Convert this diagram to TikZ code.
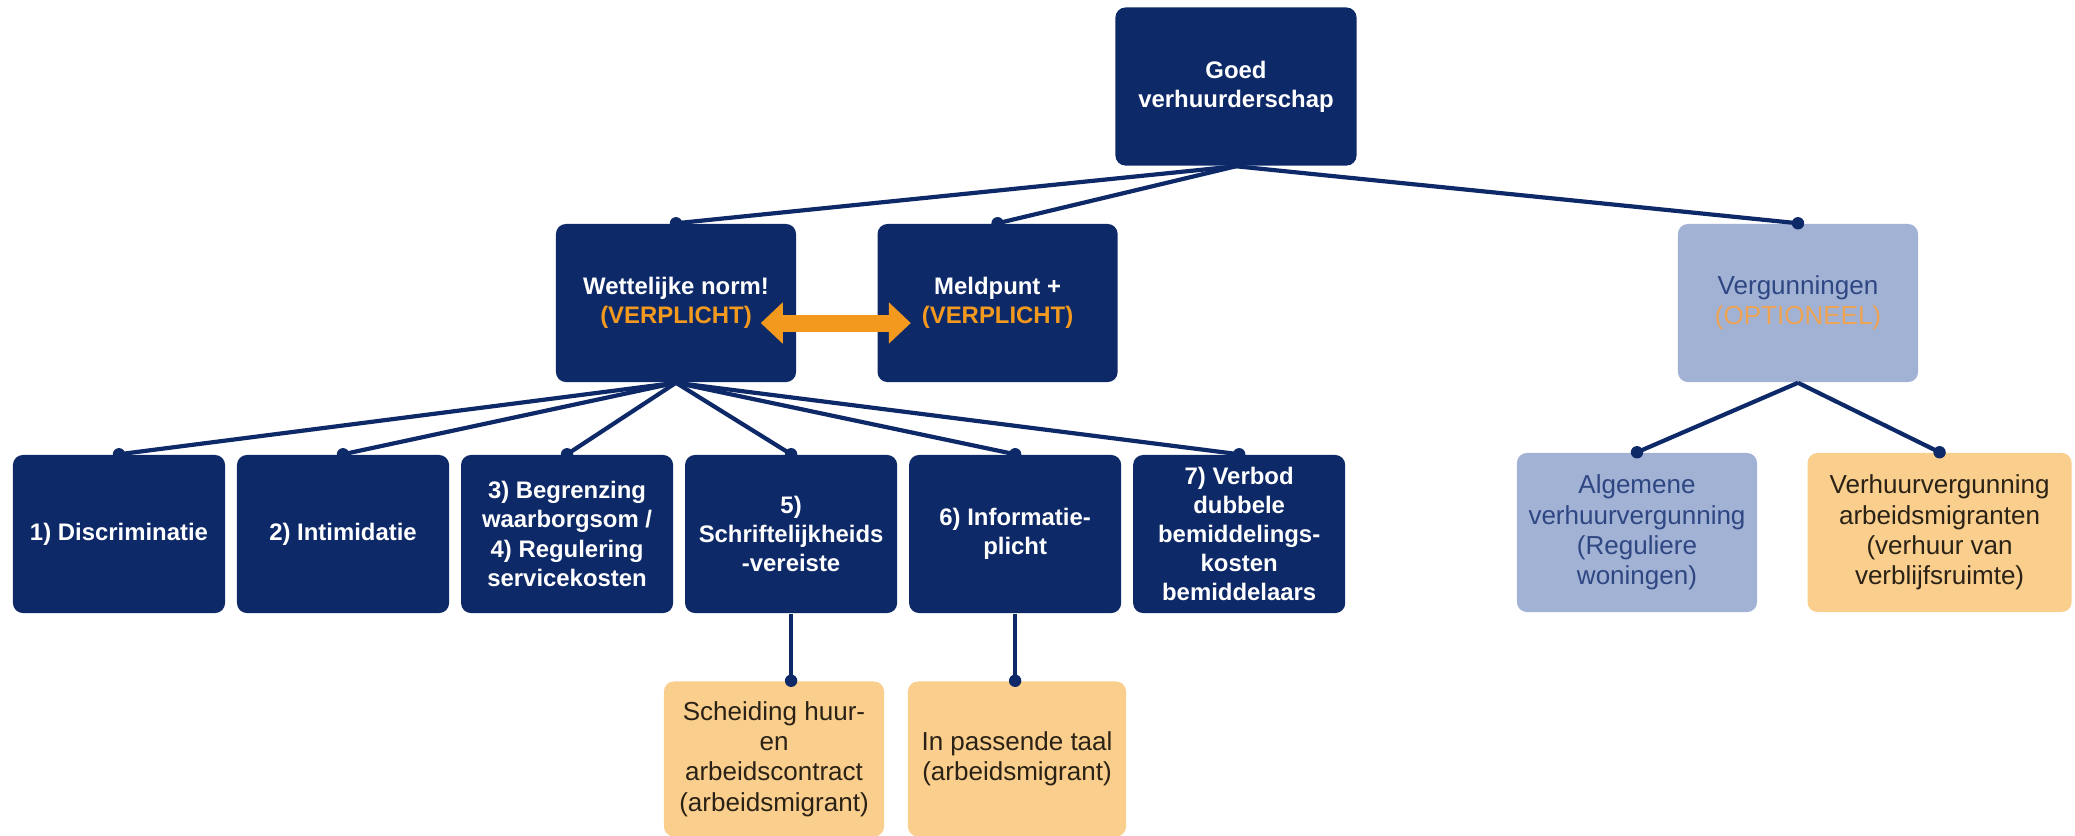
\documentclass[tikz,border=0pt]{standalone}
\usepackage{fontspec}
\setmainfont{Liberation Sans}
\usepackage{xcolor}
\usetikzlibrary{arrows.meta, positioning}
\definecolor{cnavy}{RGB}{14,41,104}
\definecolor{clight}{RGB}{161,178,212}
\definecolor{cpeach}{RGB}{250,206,140}
\definecolor{corange}{RGB}{243,154,30}
\definecolor{copt}{RGB}{238,164,84}
\definecolor{cltext}{RGB}{46,70,130}
\definecolor{cptext}{RGB}{42,34,22}

\begin{document}
\begin{tikzpicture}[
  x=0.01cm, y=-0.01cm,
  base/.style={rounded corners=0.1cm, align=center, inner sep=2pt,
    minimum height=1.58cm},
  navybox/.style={base, fill=cnavy, text=white,
    font=\fontsize{6.8}{8.3}\selectfont\bfseries},
  lightbox/.style={base, fill=clight, text=cltext, minimum width=2.4cm,
    font=\fontsize{7.4}{8.6}\selectfont},
  peachbox/.style={base, fill=cpeach, text=cptext, minimum height=1.55cm,
    font=\fontsize{7.4}{8.6}\selectfont},
  link/.style={draw=cnavy, line width=0.042cm},
  twoway/.style={corange, line width=0.17cm,
    {Triangle[length=0.22cm,width=0.4cm]}-{Triangle[length=0.22cm,width=0.4cm]}},
  node distance=0.1cm,
]
\useasboundingbox (0,0) rectangle (2075,835);

% top
\node[navybox, minimum width=2.41cm] (goed) at (1236,86.5) {Goed\\verhuurderschap};

% second row
\node[navybox, minimum width=2.4cm] (wet) at (676,303)
  {Wettelijke norm!\\{\color{corange}(VERPLICHT)}};
\node[navybox, minimum width=2.4cm, right=0.8cm of wet] (meld)
  {Meldpunt +\\{\color{corange}(VERPLICHT)}};
\node[lightbox] (verg) at (1798,303) {Vergunningen\\{\color{copt}(OPTIONEEL)}};

% legal norms
\begin{scope}[every node/.append style={navybox, minimum width=2.12cm}]
\node (d1) at (119,534) {1) Discriminatie};
\node[right=0.105cm of d1] (d2) {2) Intimidatie};
\node[right=0.105cm of d2] (d3) {3) Begrenzing\\waarborgsom /\\4) Regulering\\servicekosten};
\node[right=0.105cm of d3] (d5) {5)\\Schriftelijkheids\\-vereiste};
\node[right=0.105cm of d5] (d6) {6) Informatie-\\plicht};
\node[right=0.105cm of d6] (d7) {7) Verbod\\dubbele\\bemiddelings-\\kosten\\bemiddelaars};
\end{scope}

% migrant specifics
\node[peachbox, minimum width=2.2cm] (sch) at (774,759)
  {Scheiding huur-\\en\\arbeidscontract\\(arbeidsmigrant)};
\node[peachbox, minimum width=2.18cm] (taal) at (1017,759)
  {In passende taal\\(arbeidsmigrant)};

% permits
\node[lightbox, minimum height=1.59cm] (alg) at (1637,532.5)
  {Algemene\\verhuurvergunning\\(Reguliere\\woningen)};
\node[peachbox, minimum width=2.64cm, minimum height=1.59cm, right=0.49cm of alg] (vhr)
  {Verhuurvergunning\\arbeidsmigranten\\(verhuur van\\verblijfsruimte)};

% connectors
\foreach \c in {wet,meld,verg} {
  \draw[link] (goed.south) -- (\c.north);
  \fill[cnavy] (\c.north) circle (0.062cm);
}
\foreach \c in {d1,d2,d3,d5,d6,d7} {
  \draw[link] (wet.south) -- (\c.north);
  \fill[cnavy] (\c.north) circle (0.062cm);
}
\foreach \c in {alg,vhr} {
  \draw[link] (verg.south) -- (\c.north);
  \fill[cnavy] (\c.north) circle (0.062cm);
}
\draw[link] (d5.south) -- (d5.south |- sch.north);
\fill[cnavy] (d5.south |- sch.north) circle (0.062cm);
\draw[link] (d6.south) -- (d6.south |- taal.north);
\fill[cnavy] (d6.south |- taal.north) circle (0.062cm);

\draw[twoway] ([xshift=-0.36cm,yshift=-0.2cm]wet.east)
  -- ([xshift=0.34cm,yshift=-0.2cm]meld.west);
\end{tikzpicture}
\end{document}
